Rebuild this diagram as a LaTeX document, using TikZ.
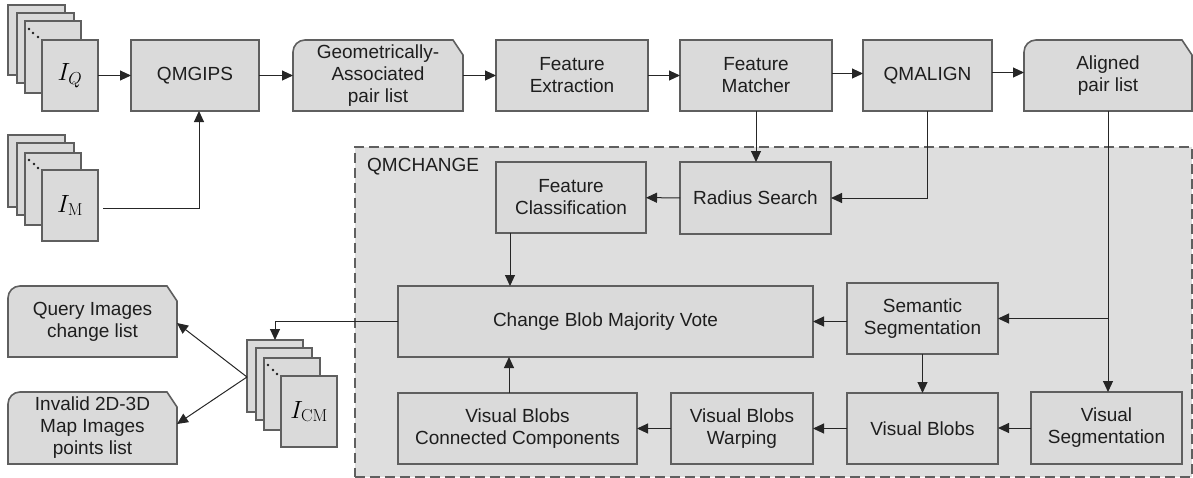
\documentclass[tikz,border=0pt]{standalone}
\usepackage[no-math]{fontspec}
\setmainfont{Liberation Sans}
\usetikzlibrary{arrows.meta,backgrounds,calc}
\definecolor{boxfill}{RGB}{218,218,218}
\definecolor{grpfill}{RGB}{222,222,222}
\definecolor{edgecol}{RGB}{95,95,95}
\definecolor{ink}{RGB}{30,30,30}
\newcommand\docpath[1]{\path[fill=boxfill, draw=edgecol, line width=1.6pt] (#1.south west) -- ([yshift=-12pt]#1.north west) arc[start angle=180,end angle=90,radius=12pt] -- ([xshift=-10pt]#1.north east) -- ([yshift=-15pt]#1.north east) -- (#1.south east) -- cycle;}
\begin{document}
\begin{tikzpicture}[x=1pt,y=-1pt,
 txt/.style={text=ink, align=center, font=\fontsize{19}{22}\selectfont},
 box/.style={txt, draw=edgecol, line width=1.6pt, fill=boxfill, inner sep=0pt, outer sep=0pt},
 doc/.style={txt, inner sep=0pt, outer sep=0pt},
 sheet/.style={draw=edgecol, line width=1.6pt, fill=boxfill, inner sep=0pt, outer sep=0pt, anchor=north west, font=\fontsize{27}{30}\selectfont},
 arr/.style={draw=black!85, line width=1pt, -{Triangle[length=11pt,width=10pt]}},
 sz/.style 2 args={minimum width=#1pt, minimum height=#2pt}
]
\useasboundingbox (0,0) rectangle (1193,477);

% group
\node[draw=edgecol, dash pattern=on 10pt off 5pt, line width=1.6pt, fill=grpfill, sz={837}{330}, inner sep=0pt, anchor=north west] (grp) at (354,146) {};
\node[txt, anchor=west, inner sep=0pt] (grplabel) at (367,167) {QMCHANGE};

% image stacks
\node[sheet, sz={57}{70}] (iq1) at (8,5) {};
\node[sheet, sz={57}{70}] (iq2) at (17,13) {};
\node[sheet, sz={56}{72}] (iq3) at (25,21) {};
\node[sheet, sz={56}{71}] (iq) at (42,40) {$I_Q$};
\foreach \p in {(29,29),(33,33),(38,37)} \fill[ink] \p circle (1.3pt);

\node[sheet, sz={57}{72}] (im1) at (8,135) {};
\node[sheet, sz={57}{72}] (im2) at (17,143) {};
\node[sheet, sz={56}{72}] (im3) at (25,153) {};
\node[sheet, sz={56}{71}] (im) at (42,170) {$I_{\mathrm{M}}$};
\foreach \p in {(29,160),(34,164),(38,168)} \fill[ink] \p circle (1.3pt);

\node[sheet, sz={56}{72}] (icm1) at (247,340) {};
\node[sheet, sz={56}{72}] (icm2) at (256,348) {};
\node[sheet, sz={56}{72}] (icm3) at (264,358) {};
\node[sheet, sz={56}{71}] (icm) at (281,376) {$I_{\mathrm{CM}}$};
\foreach \p in {(268,365),(273,370),(277,374)} \fill[ink] \p circle (1.3pt);

% top row
\node[box, sz={128}{71}] (qmgips) at (195,75.5) {QMGIPS};
\node[doc, sz={170}{71}] (gal) at (378,75.5) {Geometrically-\\Associated\\pair list};
\node[box, sz={152}{71}] (fe) at (572,75.5) {Feature\\Extraction};
\node[box, sz={152}{71}] (fm) at (756,75.5) {Feature\\Matcher};
\node[box, sz={129}{71}] (qmalign) at (927.5,75.5) {QMALIGN};
\node[doc, sz={168}{71}] (apl) at (1108,75.5) {Aligned\\pair list};

% QMCHANGE inner
\node[box, sz={151}{72}] (rs) at (755.5,198) {Radius Search};
\node[box, sz={150}{71}] (fc) at (571,197.5) {Feature\\Classification};
\node[box, sz={415}{71}] (cbmv) at (605.5,321.5) {Change Blob Majority Vote};
\node[box, sz={151}{71}] (ss) at (922.5,318.5) {Semantic\\Segmentation};
\node[box, sz={151}{72}] (vs) at (1106.5,428) {Visual\\Segmentation};
\node[box, sz={151}{71}] (vb) at (922.5,428.5) {Visual Blobs};
\node[box, sz={142}{71}] (vbw) at (742,428.5) {Visual Blobs\\Warping};
\node[box, sz={239}{71}] (vbcc) at (517.5,428.5) {Visual Blobs\\Connected Components};

% outputs
\node[doc, sz={169}{71}] (query) at (92.5,321.5) {Query Images\\change list};
\node[doc, sz={169}{72}] (invalid) at (92.5,428) {Invalid 2D-3D\\Map Images\\points list};

\begin{pgfonlayer}{background}
\docpath{gal}
\docpath{apl}
\docpath{query}
\docpath{invalid}
\end{pgfonlayer}

% connectors
\draw[arr] (iq) -- (qmgips);
\draw[arr] ([shift={(5,2.5)}]im.east) -| ($(qmgips.south)+(4,0)$);
\draw[arr] (qmgips) -- (gal);
\draw[arr] (gal) -- (fe);
\draw[arr] (fe) -- (fm);
\draw[arr] ([yshift=2pt]fm.east) -- ([yshift=2pt]qmalign.west);
\draw[arr] ([yshift=3pt]qmalign.east) -- ([yshift=3pt]apl.west);
\draw[arr] (fm.south) -- (fm.south |- rs.north);
\draw[arr] (qmalign.south) |- (rs.east);
\draw[arr] (rs) -- (fc);
\coordinate (fcd) at ($(fc.south west)+(14,0)$);
\draw[arr] (fcd) -- (fcd |- cbmv.north);
\draw[arr] (apl.south) -- (apl.south |- vs.north);
\draw[arr] (apl.south |- ss.east) -- (ss.east);
\draw[arr] (ss.west |- cbmv.east) -- (cbmv.east);
\draw[arr] (ss) -- (vb);
\draw[arr] (vs.west) -- (vs.west -| vb.east);
\draw[arr] (vb) -- (vbw);
\draw[arr] (vbw) -- (vbcc);
\coordinate (vbu) at ($(vbcc.north west)+(111,0)$);
\draw[arr] (vbu) -- (vbu |- cbmv.south);
\draw[arr] (cbmv.west) -| (icm1.north);
\coordinate (icmo) at (247,377);
\draw[arr] (icmo) -- ($(query.east)+(0,1.5)$);
\draw[arr] (icmo) -- ($(invalid.east)+(0,-4)$);
\end{tikzpicture}
\end{document}
